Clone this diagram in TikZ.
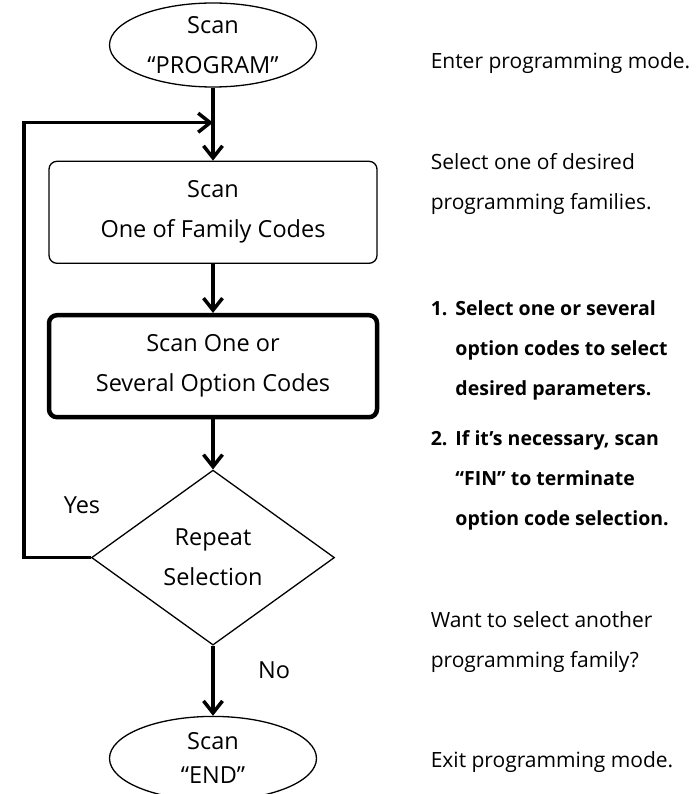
\documentclass[tikz,border=0pt]{standalone}
\usepackage{fontspec}
\setmainfont{Open Sans}
\usetikzlibrary{arrows.meta, positioning, shapes.geometric, calc}
\tikzstyle{chart}=[x=1pt, y=-1pt, line width=3.5pt,
  >={Straight Barb[length=12pt,width=19pt]},
  font=\fontsize{23.5}{40}\selectfont]
\tikzstyle{scan}=[ellipse, draw, line width=1.3pt, minimum width=207pt,
  minimum height=84pt, inner sep=0pt, align=center]
\tikzstyle{stepbox}=[rectangle, draw, rounded corners=8pt, line width=1.3pt,
  minimum width=328pt, minimum height=102pt, align=center]
\tikzstyle{decision}=[diamond, draw, line width=1.3pt, minimum width=243pt,
  minimum height=175pt, inner sep=0pt, align=center]
\tikzstyle{note}=[anchor=west, align=left, inner sep=0pt,
  font=\fontsize{21}{40}\selectfont]

\begin{document}
\begin{tikzpicture}[chart]
  \useasboundingbox (0,0) rectangle (699,794);

  \node[scan]                  (prog) at (213,45)      {Scan\\“PROGRAM”};
  \node[stepbox]               (fam)  [below=73pt of prog] {Scan\\One of Family Codes};
  \node[stepbox,line width=4.5pt] (opt) [below=49pt of fam]  {Scan One or\\Several Option Codes};
  \node[decision]              (rep)  [below=50pt of opt]  {Repeat\\Selection};
  \node[scan,font=\fontsize{23.5}{34}\selectfont]
                               (end)  [below=70pt of rep]  {Scan\\“END”};

  \coordinate (join) at ($(prog.south)!0.48!(fam.north)$);

  \node (yes) at (82,505)  {Yes};
  \node (no)  at (274,670) {No};

  \path[->]
    (prog) edge (fam)
    (fam)  edge (opt)
    (opt)  edge (rep)
    (rep)  edge (end);
  \draw[->] (rep.west) -- ++(-67,0) |- (join);

  % notes on the right
  \node[note] (entertxt) at (429,63)  {Enter programming mode.};
  \node[note] (famtxt)   at (429,184) {Select one of desired\\programming families.};
  \node[note,font=\fontsize{19.5}{40}\selectfont\bfseries] (opttxt) at (429,412)
    {\begin{tabular}{@{}l@{\hspace{8pt}}l@{}}
      1. & Select one or several\\
         & option codes to select\\
         & desired parameters.\\[10pt]
      2. & If it’s necessary, scan\\
         & “FIN” to terminate\\
         & option code selection.
    \end{tabular}};
  \node[note] (reptxt)   at (429,642) {Want to select another\\programming family?};
  \node[note] (exittxt)  at (429,762) {Exit programming mode.};
\end{tikzpicture}
\end{document}
